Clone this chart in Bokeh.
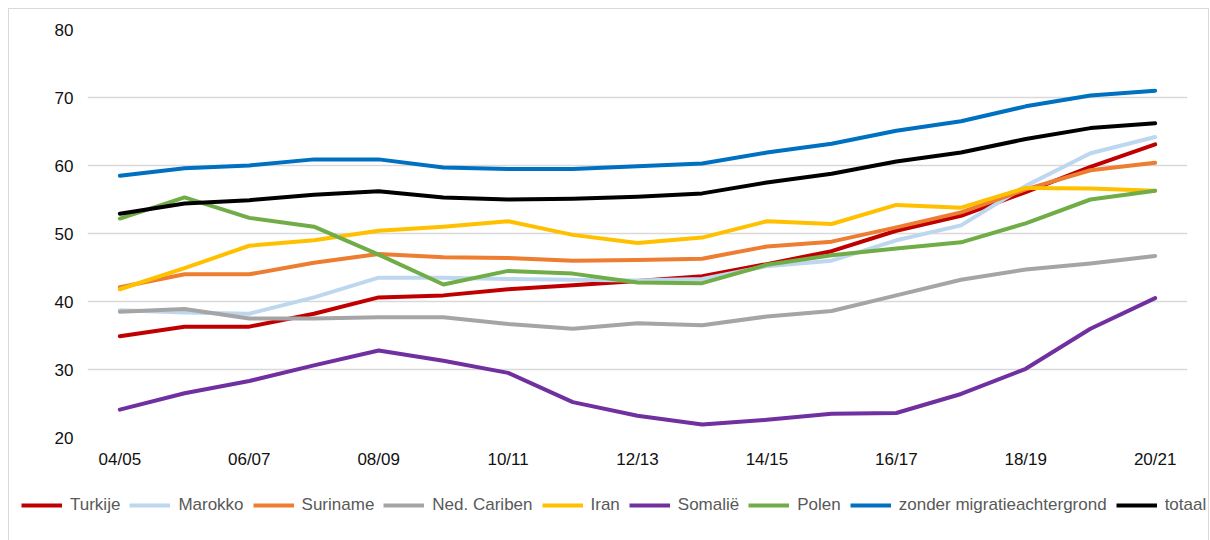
from bokeh.plotting import figure
from bokeh.layouts import column
from bokeh.models import FixedTicker, Legend, LegendItem, ColumnDataSource, Range1d
from bokeh.embed import file_html
from bokeh.resources import INLINE

years = ["04/05", "05/06", "06/07", "07/08", "08/09", "09/10", "10/11", "11/12", "12/13",
         "13/14", "14/15", "15/16", "16/17", "17/18", "18/19", "19/20", "20/21"]

turkije = [34.9, 36.3, 36.3, 38.2, 40.6, 40.9, 41.8, 42.4, 43.0, 43.7, 45.5, 47.4, 50.4, 52.6, 56.1, 59.8, 63.1]
marokko = [38.7, 38.4, 38.2, 40.6, 43.5, 43.5, 43.3, 43.2, 43.1, 43.3, 45.2, 46.0, 49.0, 51.2, 57.0, 61.8, 64.2]
suriname = [42.1, 44.0, 44.0, 45.7, 47.0, 46.5, 46.4, 46.0, 46.1, 46.3, 48.1, 48.8, 50.9, 53.1, 56.5, 59.3, 60.4]
ned_cariben = [38.5, 38.9, 37.5, 37.5, 37.7, 37.7, 36.7, 36.0, 36.8, 36.5, 37.8, 38.6, 40.9, 43.2, 44.7, 45.6, 46.7]
iran = [41.8, 44.9, 48.2, 49.0, 50.4, 51.0, 51.8, 49.8, 48.6, 49.4, 51.8, 51.4, 54.2, 53.8, 56.7, 56.6, 56.3]
somalie = [24.1, 26.5, 28.3, 30.6, 32.8, 31.3, 29.5, 25.2, 23.2, 21.9, 22.6, 23.5, 23.6, 26.4, 30.1, 36.0, 40.5]
polen = [52.2, 55.3, 52.3, 51.0, 46.9, 42.5, 44.5, 44.1, 42.8, 42.7, 45.4, 46.8, 47.8, 48.7, 51.5, 55.0, 56.3]
zonder = [58.5, 59.6, 60.0, 60.9, 60.9, 59.7, 59.5, 59.5, 59.9, 60.3, 61.9, 63.2, 65.1, 66.5, 68.7, 70.3, 71.0]
totaal = [52.9, 54.4, 54.9, 55.7, 56.2, 55.3, 55.0, 55.1, 55.4, 55.9, 57.5, 58.8, 60.6, 61.9, 63.9, 65.5, 66.2]

series_names = ["Turkije", "Marokko", "Suriname", "Ned. Cariben", "Iran", "Somalië", "Polen",
                "zonder migratieachtergrond", "totaal"]
series_values = [turkije, marokko, suriname, ned_cariben, iran, somalie, polen, zonder, totaal]
colors = ["#C00000", "#BDD7EE", "#ED7D31", "#A5A5A5", "#FFC000", "#7030A0", "#70AD47", "#0070C0", "#000000"]

y_ticks = [20, 30, 40, 50, 60, 70, 80]
x_idx = list(range(len(years)))

FONT = "Liberation Sans"

# main chart
p = figure(width=1199, height=470, output_backend="svg", toolbar_location=None,
           x_range=(-0.5, len(years) - 0.5), y_range=(20, 80),
           min_border_left=78, min_border_right=21, min_border_top=20, min_border_bottom=42)
p.outline_line_color = None

p.xgrid.grid_line_color = None
p.ygrid.grid_line_color = "#d9d9d9"
p.ygrid.grid_line_width = 1.3

p.yaxis.ticker = FixedTicker(ticks=y_ticks)
p.xaxis.ticker = FixedTicker(ticks=x_idx[::2])
p.xaxis.major_label_overrides = {i: years[i] for i in x_idx}

for ax in (p.xaxis, p.yaxis):
    ax.axis_line_color = None
    ax.major_tick_line_color = None
    ax.minor_tick_line_color = None
    ax.major_tick_out = 0
    ax.major_tick_in = 0
    ax.major_label_text_font = FONT
    ax.major_label_text_font_size = "17px"
    ax.major_label_text_color = "#111111"
p.yaxis.major_label_standoff = 14
p.xaxis.major_label_standoff = 12

# legend strip (same series, drawn outside its visible range so only the legend shows)
lf = figure(width=1199, height=61, output_backend="svg", toolbar_location=None,
            x_range=(-0.5, len(years) - 0.5), y_range=Range1d(1000, 1001),
            x_axis_location=None, y_axis_location=None,
            min_border_left=0, min_border_right=0, min_border_top=0, min_border_bottom=0)
lf.outline_line_color = None
lf.grid.visible = False

items = []
for name, vals, col in zip(series_names, series_values, colors):
    src = ColumnDataSource(dict(x=x_idx, y=vals))
    p.line("x", "y", source=src, line_color=col, line_width=4, line_cap="round", line_join="round")
    r2 = lf.line("x", "y", source=src, line_color=col, line_width=4, line_cap="butt")
    items.append(LegendItem(label=name, renderers=[r2]))

legend = Legend(items=items, orientation="horizontal", location=(12, 25),
                glyph_width=41, glyph_height=20, label_height=20, label_standoff=8,
                spacing=9, padding=0, margin=0,
                label_text_font=FONT, label_text_font_size="17px", label_text_color="#595959",
                background_fill_alpha=0, border_line_color=None)
lf.add_layout(legend, "center")

top = column(p, spacing=0)
top.styles = {"margin-left": "8px", "margin-top": "8px",
              "border-top": "1px solid #d9d9d9", "border-left": "1px solid #d9d9d9",
              "border-right": "1px solid #d9d9d9"}
bottom = column(lf, spacing=0)
bottom.styles = {"margin-left": "8px",
                 "border-left": "1px solid #d9d9d9", "border-right": "1px solid #d9d9d9"}

open("out.html", "w").write(file_html([top, bottom], INLINE))
